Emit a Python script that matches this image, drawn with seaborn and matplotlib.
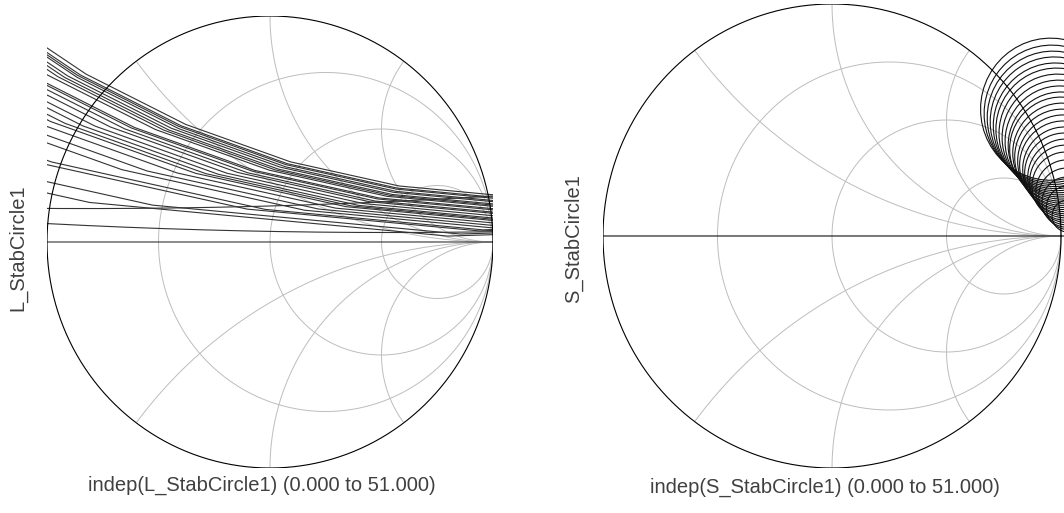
import numpy as np
import pandas as pd
import matplotlib
matplotlib.use("Agg")
import matplotlib.pyplot as plt
import seaborn as sns

# Load stability circles (centre re, centre im, radius), one per frequency
l_center_re = [1.2, 1.2, 1.2, 1.2, 1.2, 1.2, 1.2, 1.2, 1.2, 1.2, 1.2, 1.2, 1.2,
               1.2, 1.2, 1.2, 1.2, 1.2, 1.2, 1.2, 1.2, 1.2, 1.2, -0.825, 0.54, 0.0]
l_center_im = [4.248, 4.292, 4.313, 4.303, 4.383, 4.402, 4.457, 4.547, 4.778, 4.810,
               4.876, 5.033, 5.200, 5.332, 5.532, 5.693, 5.987, 6.470, 6.872, 8.011,
               8.535, 11.290, 13.120, 30.148, 30.042, 1.0e4]
l_radius = [4.048, 4.102, 4.128, 4.128, 4.213, 4.242, 4.302, 4.397, 4.638, 4.675,
            4.751, 4.913, 5.090, 5.232, 5.437, 5.603, 5.907, 6.400, 6.812, 7.961,
            8.490, 11.260, 13.100, 30.0, 30.0, 1.0e4]

# Source stability circles
s_center_re = [0.955, 0.96, 0.965, 0.97, 0.975, 0.98, 0.985, 0.99, 0.995, 1.0, 1.0,
               1.005, 1.005, 1.01, 1.01, 1.015, 1.015, 1.02, 1.02, 1.02, 1.025,
               1.025, 1.025, 1.03, 1.03, 0.0]
s_center_im = [0.5465, 0.527, 0.5095, 0.4925, 0.475, 0.4595, 0.442, 0.4245, 0.4075,
               0.390, 0.3745, 0.357, 0.3395, 0.3225, 0.305, 0.2875, 0.270, 0.2525,
               0.235, 0.215, 0.193, 0.1705, 0.146, 0.122, 0.086, 1.0e4]
s_radius = [0.3065, 0.296, 0.2875, 0.2795, 0.271, 0.2645, 0.256, 0.2475, 0.2395,
            0.231, 0.2245, 0.216, 0.2075, 0.1995, 0.191, 0.1825, 0.174, 0.1655,
            0.157, 0.147, 0.135, 0.1225, 0.108, 0.094, 0.069, 1.0e4]

# Smith chart grid
r_values = [1/3, 1, 3]
x_values = [0.5, 1, 2]

n_pts = 52  # indep 0..51


def circle_points(cx, cy, r):
    if r < 20:
        t = np.linspace(0, 2 * np.pi, n_pts)
    else:
        # nearly straight: only the part that crosses the chart
        corners = np.array([[-1.1, -1.1], [-1.1, 1.1], [1.1, -1.1], [1.1, 1.1]])
        ref = np.arctan2(-cy, -cx)
        a = np.arctan2(corners[:, 1] - cy, corners[:, 0] - cx)
        a = ref + (a - ref + np.pi) % (2 * np.pi) - np.pi
        t = np.linspace(a.min(), a.max(), 200)
    return cx + r * np.cos(t), cy + r * np.sin(t)


def circles_df(cre, cim, rad):
    rows = []
    for k, (cx, cy, r) in enumerate(zip(cre, cim, rad)):
        x, y = circle_points(cx, cy, r)
        rows.append(pd.DataFrame({"re": x, "im": y, "freq": k}))
    return pd.concat(rows, ignore_index=True)


def smith_grid(ax):
    grid = "#bdbdbd"
    t = np.linspace(0, 2 * np.pi, 721)
    for r in r_values:
        c, rr = r / (r + 1), 1 / (r + 1)
        ax.plot(c + rr * np.cos(t), rr * np.sin(t), color=grid, lw=0.7, zorder=1)
    for x in x_values:
        for s in (1, -1):
            gx = 1 + (1 / x) * np.cos(t)
            gy = s / x + (1 / x) * np.sin(t)
            inside = gx ** 2 + gy ** 2 <= 1.0001
            gx = np.where(inside, gx, np.nan)
            gy = np.where(inside, gy, np.nan)
            ax.plot(gx, gy, color=grid, lw=0.7, zorder=1)
    ax.plot(np.cos(t), np.sin(t), color="black", lw=0.8, zorder=3)


sns.set_style("white")
plt.rcParams["font.family"] = ["Liberation Sans", "DejaVu Sans"]

W, H = 1064, 513
fig = plt.figure(figsize=(W / 100, H / 100), dpi=100)

ax1 = fig.add_axes([47 / W, 1 - 468 / H, 446 / W, 452 / H])
ax2 = fig.add_axes([603 / W, 1 - 468 / H, 461 / W, 464 / H])

l_df = circles_df(l_center_re, l_center_im, l_radius)
s_df = circles_df(s_center_re, s_center_im, s_radius)

smith_grid(ax1)
sns.lineplot(data=l_df, x="re", y="im", units="freq", estimator=None, sort=False,
             color="#333333", lw=0.8, legend=False, ax=ax1, zorder=2)
ax1.set_xlim(-1, 1)
ax1.set_ylim(-1, 1)

smith_grid(ax2)
sns.lineplot(data=s_df, x="re", y="im", units="freq", estimator=None, sort=False,
             color="#111111", lw=0.8, legend=False, ax=ax2, zorder=2)
ax2.set_xlim(-1, 1.013)
ax2.set_ylim(-1, 1)

for ax in (ax1, ax2):
    ax.axis("off")

txt = dict(fontsize=14.5, color="#404040", ha="center", va="center")
fig.text(262 / W, 1 - 485 / H, "indep(L_StabCircle1) (0.000 to 51.000)", **txt)
fig.text(825 / W, 1 - 487 / H, "indep(S_StabCircle1) (0.000 to 51.000)", **txt)
fig.text(18 / W, 1 - 248 / H, "L_StabCircle1", rotation=90, **txt)
fig.text(574 / W, 1 - 239 / H, "S_StabCircle1", rotation=90, **txt)

fig.savefig("out.png", dpi=100)
